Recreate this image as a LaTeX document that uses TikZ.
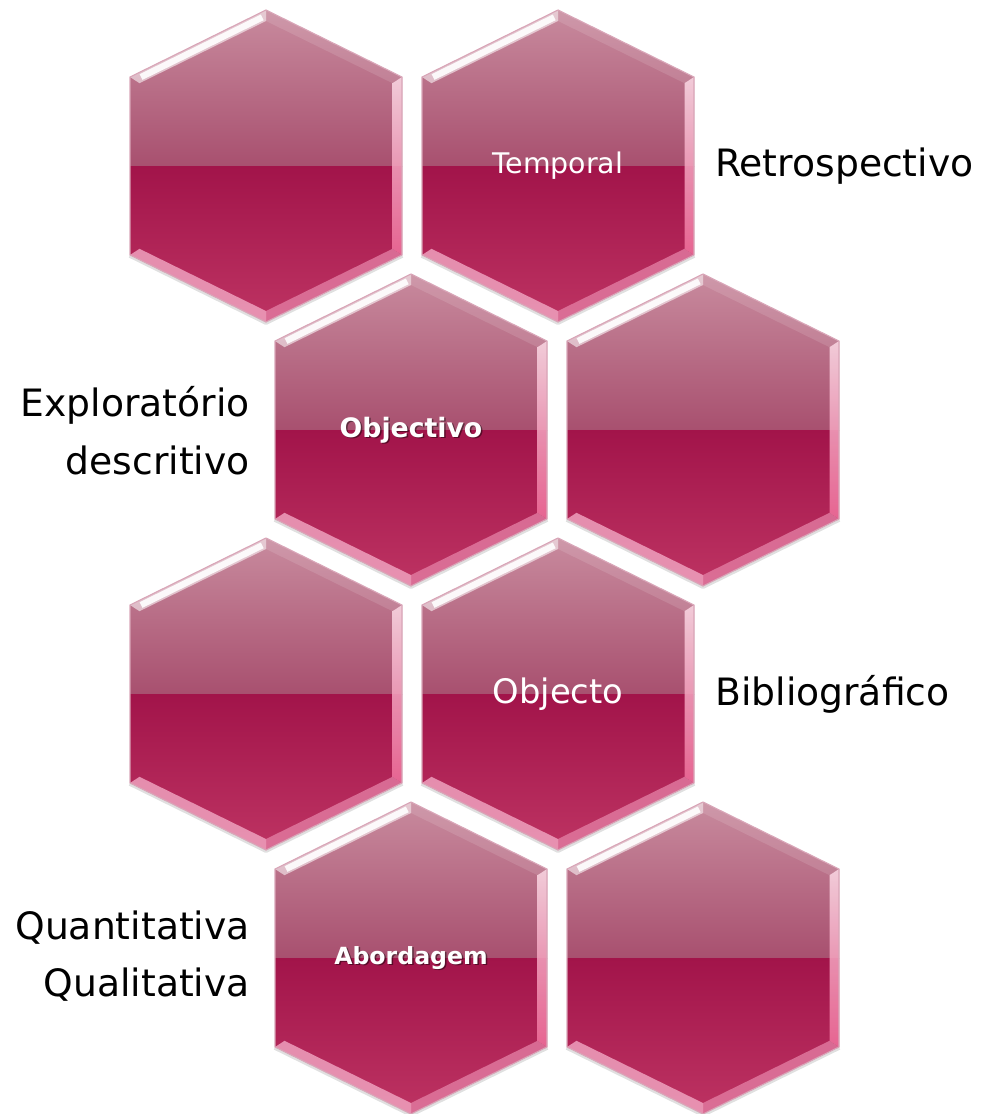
\documentclass[tikz,border=0pt]{standalone}
\usepackage{fontspec}
\setmainfont{DejaVu Sans}
\usepackage{xcolor}
\usepackage{tikz}
\usetikzlibrary{positioning, calc}

\definecolor{hextop}{HTML}{C98C9F}
\definecolor{hexmid}{HTML}{A8506F}
\definecolor{hexlow}{HTML}{A2144A}
\definecolor{hexbot}{HTML}{BE3463}
\definecolor{hexline}{HTML}{D9A6B8}
\definecolor{bevelright}{HTML}{F0709C}
\definecolor{bevelbr}{HTML}{E27CA2}
\definecolor{bevelbl}{HTML}{F2A8C4}

\newcommand{\hexcell}[2]{%
  \begin{scope}[shift={(#1,#2)}]
    \coordinate (t) at (0,-156);   \coordinate (tr) at (136,-89);
    \coordinate (br) at (136,89);  \coordinate (b) at (0,156);
    \coordinate (bl) at (-136,89); \coordinate (tl) at (-136,-89);
    \coordinate (ti) at (0,-145);   \coordinate (tri) at (126.5,-82.8);
    \coordinate (bri) at (126.5,82.8); \coordinate (bi) at (0,145);
    \coordinate (bli) at (-126.5,82.8); \coordinate (tli) at (-126.5,-82.8);
    \draw[hexshadow] (bl) -- (b) -- (br);
    \begin{scope}
      \clip (t) -- (tr) -- (br) -- (b) -- (bl) -- (tl) -- cycle;
      \shade[top color=hextop, bottom color=hexmid] (-140,-160) rectangle (140,0);
      \shade[top color=hexlow, bottom color=hexbot] (-140,0) rectangle (140,160);
    \end{scope}
    \fill[white, opacity=0.55] (tl) -- (t) -- (ti) -- (tli) -- cycle;
    \draw[white, line width=4.5pt, opacity=0.9, shorten <=5pt, shorten >=3pt] ($(tl)!0.5!(tli)$) -- ($(t)!0.5!(ti)$);
    \fill[white, opacity=0.12] (t) -- (tr) -- (tri) -- (ti) -- cycle;
    \shade[top color=white!75!bevelright, bottom color=bevelright, opacity=0.85] (tr) -- (br) -- (bri) -- (tri) -- cycle;
    \fill[bevelbr, opacity=0.8] (br) -- (b) -- (bi) -- (bri) -- cycle;
    \fill[bevelbl, opacity=0.8] (b) -- (bl) -- (bli) -- (bi) -- cycle;
    \draw[hexline, line width=0.8pt] (t) -- (tr) -- (br) -- (b) -- (bl) -- (tl) -- cycle;
  \end{scope}}

\begin{document}
\begin{tikzpicture}[x=0.025cm, y=-0.025cm,
    hexshadow/.style={black, opacity=0.12, line width=4pt, yshift=-2pt, line join=round},
    celltext/.style={text=white, inner sep=0pt},
    boldtext/.style={celltext, font=\bfseries\fontsize{19}{23}\selectfont},
    shadowtext/.style={text=black, opacity=0.45, inner sep=0pt, font=\bfseries\fontsize{19}{23}\selectfont},
    sidetext/.style={text=black, inner sep=0pt, font=\fontsize{26.8}{41}\selectfont}]

    \useasboundingbox (0,0) rectangle (984,1114);

    \foreach \x/\y in {266/166, 558/166, 411/430, 703/430, 266/694, 558/694, 411/958, 703/958}
        \hexcell{\x}{\y};

    \node[celltext, font=\fontsize{20.2}{24}\selectfont] (temporal) at (558,166) {Temporal};
    \node[shadowtext] at (412.5,431.5) {Objectivo};
    \node[boldtext] (objectivo) at (411,430) {Objectivo};
    \node[celltext, font=\fontsize{24}{28}\selectfont] (objecto) at (558,694) {Objecto};
    \node[shadowtext, font=\bfseries\fontsize{16.8}{20}\selectfont] at (412.5,959.5) {Abordagem};
    \node[boldtext, font=\bfseries\fontsize{16.8}{20}\selectfont] (abordagem) at (411,958) {Abordagem};

    \node[sidetext, anchor=west] (retro) at (715,166) {Retrospectivo};
    \node[sidetext, anchor=west] (biblio) at (715,694) {Bibliográfico};
    \node[sidetext, anchor=east, align=right] (explor) at (250,431) {Exploratório\\descritivo};
    \node[sidetext, anchor=east, align=right] (quanti) at (250,956) {Quantitativa\\Qualitativa};
\end{tikzpicture}
\end{document}
